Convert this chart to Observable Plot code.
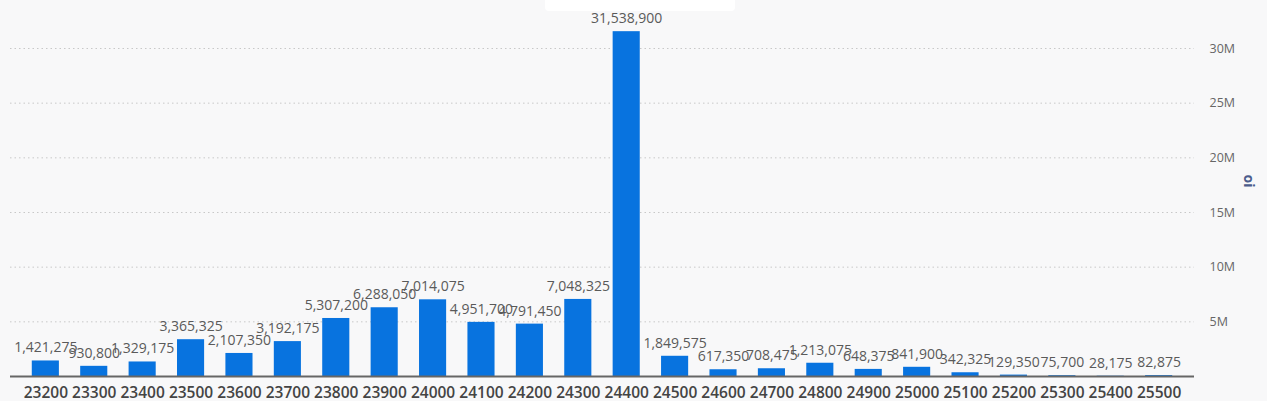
<!DOCTYPE html>
<html>
<head>
<meta charset="utf-8">
<script src="https://cdn.jsdelivr.net/npm/d3@7"></script>
<script src="https://cdn.jsdelivr.net/npm/@observablehq/plot@0.6"></script>
<style>
  html, body { margin: 0; padding: 0; background: #f8f8f9; }
  #wrap { position: relative; width: 1267px; height: 401px; overflow: hidden; background: #f8f8f9; }
  #topbox { position: absolute; left: 545px; top: 0; width: 190px; height: 11px; background: #ffffff; border-radius: 0 0 4px 4px; }
  #chart { position: absolute; left: 0; top: 0; }
</style>
</head>
<body>
<div id="wrap"><div id="topbox"></div><div id="chart"></div></div>
<script>
const strikes = ["23200","23300","23400","23500","23600","23700","23800","23900","24000","24100","24200","24300","24400","24500","24600","24700","24800","24900","25000","25100","25200","25300","25400","25500"];
const oiValues = [1421275,930800,1329175,3365325,2107350,3192175,5307200,6288050,7014075,4951700,4791450,7048325,31538900,1849575,617350,708475,1213075,648375,841900,342325,129350,75700,28175,82875];
const yTicks = [5e6,10e6,15e6,20e6,25e6,30e6];
const yTickLabels = ["5M","10M","15M","20M","25M","30M"];
const axisTitle = "oi";

const data = strikes.map((s, i) => ({strike: s, oi: oiValues[i]}));
const fmt = d3.format(",");

const chart = Plot.plot({
  width: 1267,
  height: 401,
  marginLeft: 10,
  marginRight: 73,
  marginTop: 48,
  marginBottom: 25,
  style: {background: "transparent", fontFamily: "'Open Sans', sans-serif"},
  x: {domain: strikes, paddingInner: 0.44, paddingOuter: 0.45, round: false},
  y: {domain: [0, 30e6]},
  marks: [
    Plot.gridY(yTicks, {stroke: "#c8c8c8", strokeOpacity: 1, strokeDasharray: "1.5,3", strokeWidth: 1}),
    Plot.barY(data, {x: "strike", y: "oi", fill: "#0873df"}),
    Plot.text(data, {x: "strike", y: "oi", text: d => fmt(d.oi), dy: -13, fontSize: 14, fill: "#5a5a5a", fontFamily: "'Open Sans', sans-serif"}),
    Plot.ruleY([0], {stroke: "#666", strokeWidth: 2}),
    Plot.axisX({tickSize: 0, tickPadding: 10, fontSize: 15.5, fontWeight: 600, color: "#444", label: null}),
    Plot.axisY(yTicks, {anchor: "right", tickSize: 0, tickPadding: 15, fontSize: 12.5, color: "#666", label: null,
      tickFormat: d => yTickLabels[yTicks.indexOf(d)]}),
    Plot.text([axisTitle], {frameAnchor: "right", dx: 54, dy: -25, rotate: 90, fontSize: 14, fontWeight: 700, fill: "#4b5c8c"})
  ]
});
document.getElementById("chart").appendChild(chart);
</script>
</body>
</html>
